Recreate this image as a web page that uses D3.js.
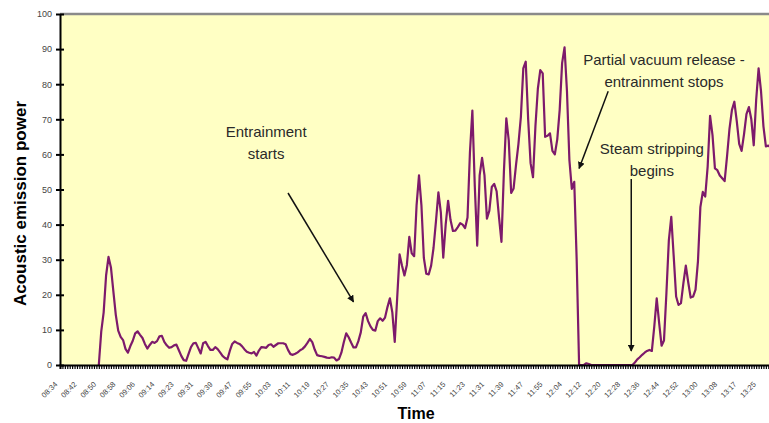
<!DOCTYPE html>
<html>
<head>
<meta charset="utf-8">
<script src="https://cdn.jsdelivr.net/npm/d3@7"></script>
<style>
  html, body { margin: 0; padding: 0; background: #fff; }
  svg { display: block; font-family: "Liberation Sans", Arial, sans-serif; }
  .line { fill: none; stroke: #7d1a6b; stroke-width: 2.2; stroke-linejoin: round; }
  .note { font-size: 15px; fill: #2a2a2a; }
  .axis-title { font-weight: bold; fill: #000; }
</style>
</head>
<body>
<svg id="chart" width="769" height="423"></svg>
<script>
// time labels, one every 8 samples
const timeLabels = ["08:34","08:42","08:50","08:58","09:06","09:14","09:23","09:31","09:39","09:47",
  "09:55","10:03","10:11","10:19","10:27","10:35","10:43","10:51","10:59","11:07","11:15","11:23",
  "11:31","11:39","11:47","11:55","12:04","12:12","12:20","12:28","12:36","12:44","12:52","13:00",
  "13:08","13:17","13:25"];
const labelEvery = 8;
const sampleCount = 296;
const firstSample = 16;

// acoustic emission power, one value per sample from firstSample on
const power = [
  0, 9.5, 15, 25.5, 30.8, 27.8, 21, 14.3,
  9.8, 8, 7.1, 4.6, 3.5, 5.4, 6.9, 9,
  9.6, 8.6, 7.7, 6, 4.7, 5.7, 6.6, 6.3,
  6.8, 8.2, 8.3, 6.6, 5.6, 4.9, 5.1, 5.6,
  5.8, 4.2, 2.6, 1.4, 1.2, 3.2, 5.1, 6.2,
  6.3, 4.8, 3.3, 6.2, 6.6, 5.4, 4.3, 4.3,
  5.1, 4.5, 3.6, 2.6, 2, 1.6, 4, 6,
  6.7, 6.3, 6, 5.4, 4.5, 3.8, 3.5, 3.3,
  3.7, 2.7, 4.1, 5.1, 5, 4.9, 5.7, 5.9,
  5.2, 5.7, 6.2, 6.2, 6.2, 5.9, 4.3, 3.1,
  2.9, 3.2, 3.6, 4.2, 4.6, 5.3, 6.3, 7.4,
  6.5, 4.4, 2.8, 2.6, 2.5, 2.3, 2.1, 2,
  2.2, 2.1, 1.3, 1.7, 3.5, 6.5, 9, 7.9,
  6.4, 5, 5, 6.8, 9.3, 13.8, 14.8, 12.5,
  11, 10, 9.8, 12.5, 13.3, 12.6, 13.5, 16.5,
  19, 15, 6.6, 19, 31.5, 28.3, 25.5, 28.5,
  36.5, 31.8, 31, 45.5, 54, 45.5, 30.5, 26,
  25.8, 28.3, 33.4, 41, 49.2, 43.5, 30.6, 40,
  46.8, 41.3, 38.2, 38.3, 39.3, 40.4, 40, 39,
  42, 60.5, 72.5, 51, 34, 54, 59, 54,
  41.7, 44, 50.7, 51.6, 49.5, 42, 35.1, 55,
  70.3, 64, 49, 50.3, 57, 63, 70.7, 84.5,
  86.4, 70, 57.5, 53.5, 68, 78.7, 84, 83.1,
  65, 65.3, 66, 61, 60, 64.3, 72.7, 86,
  90.5, 78, 58.4, 50.2, 52.2, 30, 0, 0,
  0, 0.5, 0.3, 0, 0, 0, 0, 0,
  0, 0, 0, 0, 0, 0, 0, 0,
  0, 0, 0, 0, 0, 0.7, 1.6, 2.2,
  2.9, 3.5, 4, 4.3, 4, 11, 19, 12,
  5.5, 7, 20.5, 35.5, 42.2, 31, 19.5, 17.1,
  17.6, 23.3, 28.3, 23.5, 19.2, 19.5, 21.5, 29.5,
  45, 49.3, 48, 56.5, 71, 65.5, 56, 55.5,
  54, 53.2, 52.4, 59.5, 67.3, 72.6, 75, 69.5,
  63, 61, 65.8, 71.5, 73.5, 70, 62.6, 75.5,
  84.5, 78, 68, 62.3, 62.5, 62
];
const yTicks = [0, 10, 20, 30, 40, 50, 60, 70, 80, 90, 100];

// annotations: text lines and arrows, in data units (sample index, power)
const notes = [
  {lines: ["Entrainment", "starts"], at: [85, 65], from: [94, 49], to: [121, 18]},
  {lines: ["Partial vacuum release -", "entrainment stops"], at: [249, 85.5], from: [226, 78], to: [214, 56]},
  {lines: ["Steam stripping", "begins"], at: [244, 60], from: [235.5, 53], to: [235.5, 4]}
];

const svg = d3.select('#chart');
const margin = {left: 60, top: 14, bottom: 58};
const plotW = 718, plotH = 423 - margin.top - margin.bottom;

const x = d3.scaleLinear().domain([0, sampleCount]).range([0, plotW]);
const y = d3.scaleLinear().domain([0, 100]).range([plotH, 0]);

svg.append('defs').append('marker')
  .attr('id', 'arrow')
  .attr('viewBox', '0 0 10 10')
  .attr('refX', 9).attr('refY', 5)
  .attr('markerWidth', 7).attr('markerHeight', 7)
  .attr('markerUnits', 'userSpaceOnUse')
  .attr('orient', 'auto')
  .append('path')
  .attr('d', 'M0,0 L10,5 L0,10 z')
  .attr('fill', '#111');

const g = svg.append('g').attr('transform', `translate(${margin.left},${margin.top})`);

g.append('rect')
  .attr('width', plotW).attr('height', plotH)
  .attr('fill', '#ffffc4');

// top frame line
g.append('line')
  .attr('x1', 0).attr('x2', plotW)
  .attr('y1', 0).attr('y2', 0)
  .attr('stroke', '#8a8a8a').attr('stroke-width', 2.5);

// series
const line = d3.line()
  .x((d, i) => x(firstSample + i))
  .y(d => y(d));

g.append('path')
  .datum(power)
  .attr('class', 'line')
  .attr('d', line);

// x axis: a small tick per sample, labels every 8 samples
const xAxis = d3.axisBottom(x)
  .tickValues(d3.range(0, sampleCount + 1))
  .tickSize(4)
  .tickFormat('');
const xG = g.append('g')
  .attr('transform', `translate(0,${plotH})`)
  .call(xAxis);
xG.select('.domain').attr('stroke', '#000').attr('stroke-width', 2);
xG.selectAll('.tick line').attr('stroke', '#000').attr('stroke-width', 1.2);

g.append('g')
  .selectAll('text')
  .data(timeLabels)
  .enter()
  .append('text')
  .attr('transform', (d, i) => `translate(${x(i * labelEvery) - 4},${plotH + 18}) rotate(-45)`)
  .attr('text-anchor', 'end')
  .attr('dy', '0.35em')
  .attr('font-size', 7.5)
  .attr('fill', '#444')
  .text(d => d);

// y axis
const yAxis = d3.axisLeft(y)
  .tickValues(yTicks)
  .tickSize(0)
  .tickPadding(8);
const yG = g.append('g').call(yAxis);
yG.select('.domain').attr('stroke', '#000').attr('stroke-width', 2);
yG.selectAll('.tick text')
  .attr('font-family', '"Liberation Sans", Arial, sans-serif')
  .attr('font-size', 9)
  .attr('fill', '#444');
yG.selectAll('.tick')
  .append('line')
  .attr('x1', -4).attr('x2', 4)
  .attr('stroke', '#000').attr('stroke-width', 2);

// axis titles
svg.append('text')
  .attr('class', 'axis-title')
  .attr('transform', `translate(26,${margin.top + plotH / 2 + 14}) rotate(-90)`)
  .attr('text-anchor', 'middle')
  .attr('font-size', 17)
  .text('Acoustic emission power');

svg.append('text')
  .attr('class', 'axis-title')
  .attr('x', 416).attr('y', 419)
  .attr('text-anchor', 'middle')
  .attr('font-size', 16)
  .text('Time');

// annotations
notes.forEach(n => {
  const t = g.append('text')
    .attr('class', 'note')
    .attr('text-anchor', 'middle')
    .attr('x', x(n.at[0]))
    .attr('y', y(n.at[1]));
  n.lines.forEach((s, i) => {
    t.append('tspan')
      .attr('x', x(n.at[0]))
      .attr('dy', i === 0 ? 0 : 22)
      .text(s);
  });
  g.append('line')
    .attr('x1', x(n.from[0])).attr('y1', y(n.from[1]))
    .attr('x2', x(n.to[0])).attr('y2', y(n.to[1]))
    .attr('stroke', '#111').attr('stroke-width', 1.5)
    .attr('marker-end', 'url(#arrow)');
});
</script>
</body>
</html>
